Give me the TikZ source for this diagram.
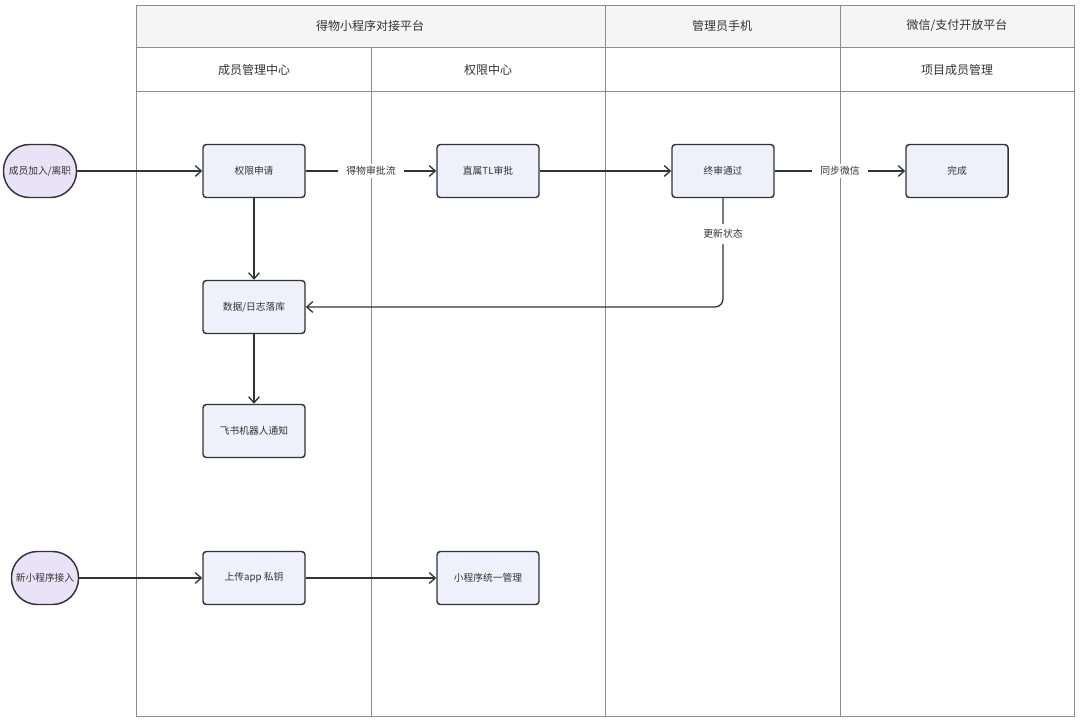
\documentclass[tikz,border=0pt]{standalone}
\usepackage{fontspec}
\setmainfont{Noto Sans CJK SC}
\usetikzlibrary{arrows.meta}
\definecolor{lanec}{HTML}{8C8C8C}
\definecolor{headfill}{HTML}{F5F5F5}
\definecolor{boxfill}{HTML}{EEF0FB}
\definecolor{termfill}{HTML}{EAE3F8}
\definecolor{inkc}{HTML}{333333}
\tikzset{
  laneline/.style={draw=lanec, line width=0.75pt},
  headtext/.style={font=\fontsize{9}{10}\selectfont, text=inkc},
  stepbox/.style={draw=inkc, fill=boxfill, line width=1.1pt, rounded corners=2.5pt,
    minimum width=76.5pt, minimum height=39.75pt, font=\fontsize{7.3}{8}\selectfont, text=inkc},
  termbox/.style={draw=inkc, fill=termfill, line width=1.1pt, rounded corners=19.5pt,
    minimum height=39.75pt, inner sep=2pt, font=\fontsize{7.3}{8}\selectfont, text=inkc},
  flow/.style={draw=inkc, line width=1pt, -{Straight Barb[length=4.5pt,width=8pt]}},
  edgelabel/.style={fill=white, inner xsep=6.5pt, inner ysep=2pt, font=\fontsize{7.4}{8}\selectfont, text=inkc}
}
\begin{document}
\begin{tikzpicture}[x=0.75pt,y=-0.75pt]
\useasboundingbox (0,0) rectangle (1080,721);
% swimlane frame
\fill[headfill] (136,5) rectangle (1074,47);
\draw[laneline] (136,5) rectangle (1074,716);
\draw[laneline] (136,47) -- (1074,47);
\draw[laneline] (136,91) -- (1074,91);
\draw[laneline] (605,5) -- (605,716);
\draw[laneline] (840,5) -- (840,716);
\draw[laneline] (371,47) -- (371,716);
% headers
\node[headtext] (h1) at (370,26) {得物小程序对接平台};
\node[headtext] (h2) at (722,26) {管理员手机};
\node[headtext] (h3) at (957,26) {微信/支付开放平台};
\node[headtext] (s1) at (254,70) {成员管理中心};
\node[headtext] (s2) at (488,70) {权限中心};
\node[headtext] (s4) at (957,70) {项目成员管理};
% nodes
\node[termbox, minimum width=54.75pt] (join) at (40,171) {成员加入/离职};
\node[stepbox] (apply) at (254,171) {权限申请};
\node[stepbox] (tl) at (488,171) {直属TL审批};
\node[stepbox] (final) at (723,171) {终审通过};
\node[stepbox] (done) at (957,171) {完成};
\node[stepbox] (db) at (254,307) {数据/日志落库};
\node[stepbox] (bot) at (254,431) {飞书机器人通知};
\node[termbox, minimum width=50.25pt] (newapp) at (45,578) {新小程序接入};
\node[stepbox] (upload) at (254,578) {上传app 私钥};
\node[stepbox] (manage) at (488,578) {小程序统一管理};
% connectors
\draw[flow] (join) -- (apply);
\draw[flow] (apply) -- node[edgelabel] (l1) {得物审批流} (tl);
\draw[flow] (tl) -- (final);
\draw[flow] (final) -- node[edgelabel] (l2) {同步微信} (done);
\draw[flow] (apply) -- (db);
\draw[flow, rounded corners=6pt] (final.south) -- node[edgelabel, inner ysep=4pt, pos=0.33] (l3) {更新状态} (final.south |- db.east) -- (db.east);
\draw[flow] (db) -- (bot);
\draw[flow] (newapp) -- (upload);
\draw[flow] (upload) -- (manage);
\end{tikzpicture}
\end{document}
